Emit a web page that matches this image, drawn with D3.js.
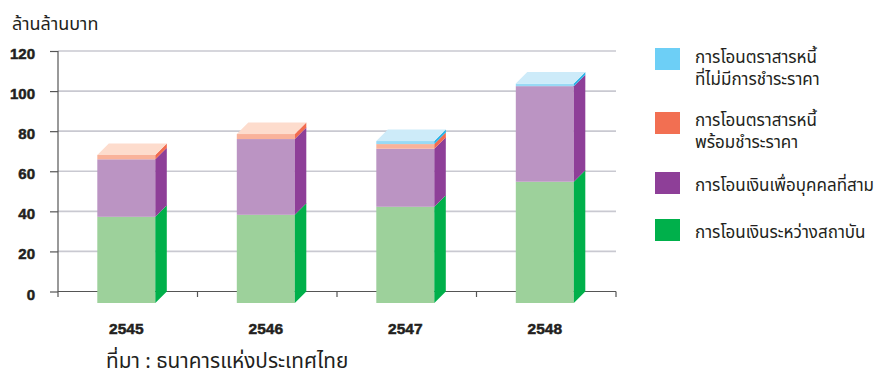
<!DOCTYPE html>
<html>
<head>
<meta charset="utf-8">
<script src="https://cdn.jsdelivr.net/npm/d3@7/dist/d3.min.js"></script>
<style>
  html, body { margin: 0; padding: 0; background: #ffffff; }
  svg { display: block; }
  .thai { font-family: "Noto Sans Thai", "Noto Sans Thai Looped", "Tlwg Typo", "Loma", "Garuda", "DejaVu Sans", "Noto Sans", sans-serif; fill: #231f20; }
  .num { font-family: "Liberation Sans", Arial, sans-serif; font-weight: bold; fill: #231f20; stroke: #231f20; stroke-width: 0.5px; }
</style>
</head>
<body>
<svg id="chart" width="877" height="376"></svg>
<script>
// Thai payment transfers, trillion baht (ล้านล้านบาท)
const years = ["2545", "2546", "2547", "2548"];
const interbank = [43, 44, 48, 60.5];          // การโอนเงินระหว่างสถาบัน
const thirdParty = [28.7, 37.8, 29, 47.7];     // การโอนเงินเพื่อบุคคลที่สาม
const billsPaid = [2.2, 2.5, 2.3, 0];          // การโอนตราสารหนี้พร้อมชำระราคา
const billsFree = [0, 0, 1.5, 1.3];            // การโอนตราสารหนี้ที่ไม่มีการชำระราคา
const yTicks = [0, 20, 40, 60, 80, 100, 120];

const seriesNames = [
  ["การโอนตราสารหนี้", "ที่ไม่มีการชำระราคา"],
  ["การโอนตราสารหนี้", "พร้อมชำระราคา"],
  ["การโอนเงินเพื่อบุคคลที่สาม"],
  ["การโอนเงินระหว่างสถาบัน"]
];

// stacking order bottom -> top
const stackSeries = [
  { values: interbank,  front: "#9dd19b", side: "#00b04a", top: "#cfe9cd" },
  { values: thirdParty, front: "#bb94c3", side: "#8e3f98", top: "#ddcae1" },
  { values: billsPaid,  front: "#f9b29a", side: "#f26c4f", top: "#fddccd" },
  { values: billsFree,  front: "#98d9f5", side: "#29b3e6", top: "#cdebf9" }
];
const legendColors = ["#6dcff6", "#f26f52", "#8e3f98", "#00b04b"];

const svg = d3.select("#chart");

const x = d3.scaleBand().domain(years).range([58, 616]).paddingInner(0).paddingOuter(0);
const y = d3.scaleLinear().domain([0, 120]).range([291.5, 51]);
const depth = 11.5;
const barOffset = 39.3;   // front-face left edge inside each band
const barW = 58;

// gridlines on the back wall
svg.append("g")
  .selectAll("line")
  .data(yTicks.filter(t => t > 0))
  .join("line")
  .attr("x1", 58).attr("x2", 616)
  .attr("y1", d => y(d)).attr("y2", d => y(d))
  .attr("stroke", "#c9c9d1").attr("stroke-width", 1.6);

// y axis
const yAxis = svg.append("g").attr("transform", "translate(58,0)")
  .call(d3.axisLeft(y).tickValues(yTicks).tickSize(8).tickPadding(15).tickFormat(d3.format("d")));
yAxis.select(".domain").remove();
yAxis.selectAll(".tick line").attr("stroke", "#555").attr("stroke-width", 1.2);
yAxis.selectAll(".tick text").attr("class", "num").style("font-size", "15px").attr("dy", "0.5em");
svg.append("line").attr("x1", 58).attr("x2", 58).attr("y1", y(120)).attr("y2", 297)
  .attr("stroke", "#555").attr("stroke-width", 1.2);

// x axis baseline and category separators
svg.append("line").attr("x1", 58).attr("x2", 616).attr("y1", y(0)).attr("y2", y(0))
  .attr("stroke", "#555").attr("stroke-width", 1.2);
const bounds = years.map(yr => x(yr)).concat([x(years[years.length - 1]) + x.bandwidth()]);
svg.append("g").selectAll("line").data(bounds.slice(1)).join("line")
  .attr("x1", d => d).attr("x2", d => d).attr("y1", y(0)).attr("y2", 297)
  .attr("stroke", "#555").attr("stroke-width", 1.2);

// stacked 3D bars
const bars = svg.append("g");
years.forEach((yr, i) => {
  const fx = x(yr) + barOffset;
  let base = 0;
  let topIdx = -1;
  stackSeries.forEach((s, k) => { if (s.values[i] > 0) topIdx = k; });
  stackSeries.forEach((s, k) => {
    const v = s.values[i];
    if (v <= 0) return;
    const y0 = y(base) + depth, y1 = y(base + v) + depth;
    const g = bars.append("g");
    g.append("rect").attr("x", fx).attr("y", y1).attr("width", barW).attr("height", y0 - y1)
      .attr("fill", s.front);
    g.append("polygon")
      .attr("points", [[fx + barW, y0], [fx + barW + depth, y0 - depth], [fx + barW + depth, y1 - depth], [fx + barW, y1]].map(p => p.join(",")).join(" "))
      .attr("fill", s.side);
    if (k === topIdx) {
      g.append("polygon")
        .attr("points", [[fx, y1], [fx + barW, y1], [fx + barW + depth, y1 - depth], [fx + depth, y1 - depth]].map(p => p.join(",")).join(" "))
        .attr("fill", s.top);
    }
    base += v;
  });
});

// category labels
svg.append("g").selectAll("text").data(years).join("text")
  .attr("class", "num")
  .attr("x", d => x(d) + barOffset + barW / 2)
  .attr("y", 334)
  .attr("text-anchor", "middle")
  .style("font-size", "15.5px")
  .text(d => d);

// unit title
svg.append("text").attr("class", "thai").attr("x", 12).attr("y", 30)
  .style("font-size", "18px").text("ล้านล้านบาท");

// source note
svg.append("text").attr("class", "thai").attr("x", 106).attr("y", 368)
  .style("font-size", "20.8px").text("ที่มา : ธนาคารแห่งประเทศไทย");

// legend
const legendRows = [
  { sy: 48, lines: [63, 85] },
  { sy: 112, lines: [126, 148] },
  { sy: 172, lines: [191] },
  { sy: 219, lines: [238] }
];
const legend = svg.append("g");
legendRows.forEach((r, i) => {
  legend.append("rect").attr("x", 655).attr("y", r.sy).attr("width", 25).attr("height", 22)
    .attr("fill", legendColors[i]);
  seriesNames[i].forEach((t, j) => {
    legend.append("text").attr("class", "thai").attr("x", 695).attr("y", r.lines[j])
      .style("font-size", "17px").text(t);
  });
});
</script>
</body>
</html>
